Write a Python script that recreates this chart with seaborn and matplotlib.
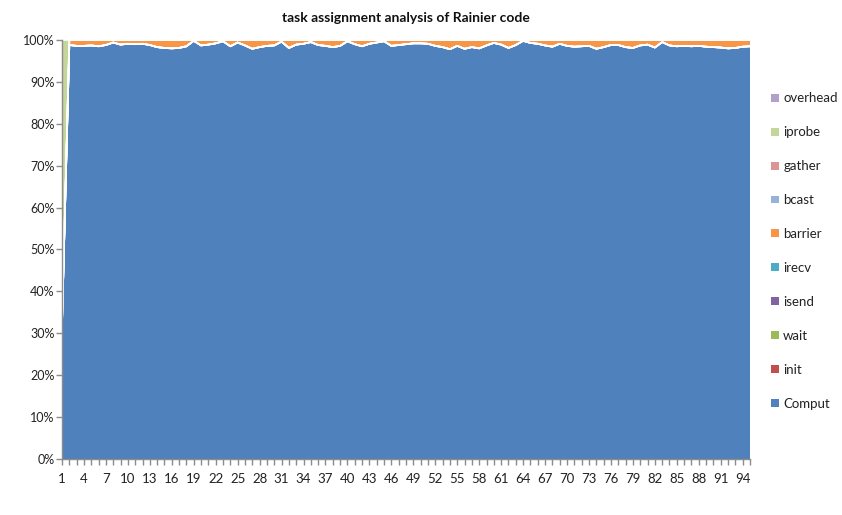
import matplotlib
matplotlib.use("Agg")
import matplotlib.pyplot as plt
from matplotlib.patches import Patch
from matplotlib.ticker import FixedLocator, FuncFormatter
import numpy as np
import pandas as pd
import seaborn as sns

# ---- data -------------------------------------------------------------
categories = list(range(1, 96))

comput = [32.0, 98.8, 98.6, 98.6, 98.7, 98.5, 98.8, 99.4, 98.9, 99.1,
          99.0, 99.1, 98.8, 98.3, 98.1, 98.0, 98.1, 98.5, 99.8, 98.7,
          98.9, 99.2, 99.7, 98.5, 99.4, 98.7, 97.9, 98.3, 98.6, 98.7,
          99.6, 98.1, 98.9, 99.1, 99.5, 98.8, 98.6, 98.3, 98.6, 99.7,
          99.0, 98.5, 99.1, 99.4, 99.7, 98.6, 98.8, 99.0, 99.2, 99.2,
          99.1, 98.6, 98.3, 97.8, 98.6, 97.9, 98.3, 98.0, 98.7, 99.3,
          98.9, 98.1, 98.8, 99.8, 99.3, 99.1, 98.7, 98.4, 99.1, 98.6,
          98.4, 98.5, 98.6, 97.9, 98.3, 98.8, 98.8, 98.3, 98.1, 98.7,
          98.9, 98.2, 99.5, 98.7, 98.5, 98.6, 98.5, 98.6, 98.4, 98.3,
          98.2, 98.0, 98.1, 98.4, 98.5]

barrier = [0.0, 1.2, 1.4, 1.4, 1.3, 1.5, 1.2, 0.6, 1.1, 0.9,
           1.0, 0.9, 1.2, 1.7, 1.9, 2.0, 1.9, 1.5, 0.2, 1.3,
           1.1, 0.8, 0.3, 1.5, 0.6, 1.3, 2.1, 1.7, 1.4, 1.3,
           0.4, 1.9, 1.1, 0.9, 0.5, 1.2, 1.4, 1.7, 1.4, 0.3,
           1.0, 1.5, 0.9, 0.6, 0.3, 1.4, 1.2, 1.0, 0.8, 0.8,
           0.9, 1.4, 1.7, 2.2, 1.4, 2.1, 1.7, 2.0, 1.3, 0.7,
           1.1, 1.9, 1.2, 0.2, 0.7, 0.9, 1.3, 1.6, 0.9, 1.4,
           1.6, 1.5, 1.4, 2.1, 1.7, 1.2, 1.2, 1.7, 1.9, 1.3,
           1.1, 1.8, 0.5, 1.3, 1.5, 1.4, 1.5, 1.4, 1.6, 1.7,
           1.8, 2.0, 1.9, 1.6, 1.5]

iprobe = [68.0] + [0.0] * 94
init = [0.0] * 95
wait = [0.0] * 95
isend = [0.0] * 95
irecv = [0.0] * 95
bcast = [0.0] * 95
gather = [0.0] * 95
overhead = [0.0] * 95

series_names = ["Comput", "init", "wait", "isend", "irecv", "barrier",
                "bcast", "gather", "iprobe", "overhead"]
series_colors = ["#4F81BD", "#C0504D", "#9BBB59", "#8064A2", "#4BACC6",
                 "#F79646", "#95B3D7", "#DA9694", "#C4D79B", "#B1A0C7"]

df = pd.DataFrame({
    "Comput": comput, "init": init, "wait": wait, "isend": isend,
    "irecv": irecv, "barrier": barrier, "bcast": bcast, "gather": gather,
    "iprobe": iprobe, "overhead": overhead,
}, index=categories)

# 100% stacked: each category normalised to its total
share = df.div(df.sum(axis=1), axis=0) * 100

# ---- style ------------------------------------------------------------
sns.set_theme(style="white")
palette = sns.color_palette(series_colors)
plt.rcParams["font.family"] = ["Lato", "DejaVu Sans"]

fig = plt.figure(figsize=(8.42, 5.15), dpi=100)
ax = fig.add_axes([62 / 842, 1 - 459 / 515, (750 - 62) / 842, (459 - 40) / 515])

x = np.array(categories)
ax.stackplot(x, [share[c].values for c in series_names],
             colors=palette, linewidth=0, edgecolor="none")

# white borders along the top of each layer
cum = share[series_names].cumsum(axis=1)
for c in series_names[:-1]:
    ax.plot(x, cum[c].values, color="white", lw=1.2, solid_joinstyle="round")

ax.set_xlim(x[0], x[-1])
ax.set_ylim(0, 100)

# axes and ticks
grey = "#8C8C8C"
for side in ["top", "right"]:
    ax.spines[side].set_visible(False)
for side in ["left", "bottom"]:
    ax.spines[side].set_color(grey)
    ax.spines[side].set_linewidth(1.0)

ax.set_yticks(np.arange(0, 101, 10))
ax.yaxis.set_major_formatter(FuncFormatter(lambda v, p: f"{int(v)}%"))
ax.xaxis.set_major_locator(FixedLocator(categories))
ax.set_xticklabels([str(c) if (c - 1) % 3 == 0 else "" for c in categories])
ax.tick_params(axis="y", which="major", direction="out", length=4, width=1,
               color=grey, labelsize=9, labelcolor="#222222", pad=1.5,
               left=True)
ax.tick_params(axis="x", which="major", direction="out", length=4, width=1,
               color=grey, labelsize=9.5, labelcolor="#222222", pad=6,
               bottom=True)

ax.set_title("task assignment analysis of Rainier code", fontsize=10,
             fontweight="bold", color="#111111", pad=13)

# legend, top entry = top layer
handles = [Patch(facecolor=col, edgecolor="none", label=name)
           for name, col in zip(series_names, series_colors)][::-1]
fig.legend(handles=handles, loc="center left",
           bbox_to_anchor=(766 / 842, 1 - 251 / 515), frameon=False,
           fontsize=9.5, handlelength=0.55, handleheight=0.55,
           handletextpad=0.35, labelspacing=1.66, borderaxespad=0,
           labelcolor="#222222")

fig.savefig("out.png", dpi=100)
